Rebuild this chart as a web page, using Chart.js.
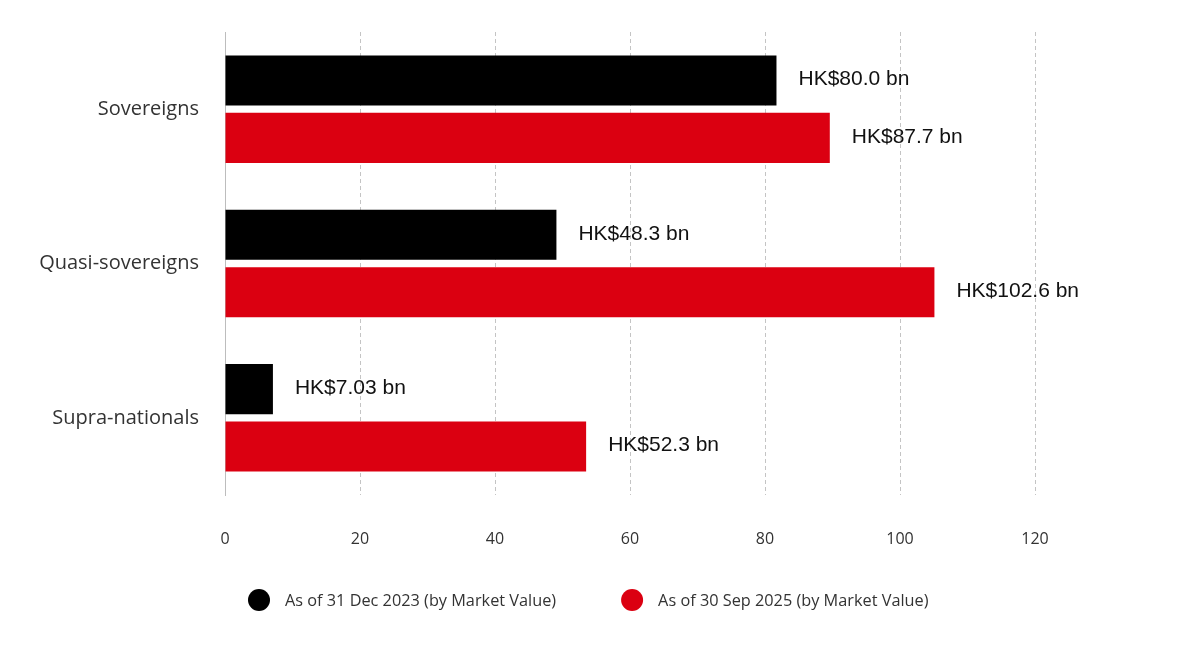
<!DOCTYPE html>
<html>
<head>
<meta charset="utf-8">
<script src="https://cdn.jsdelivr.net/npm/chart.js@4.4.1/dist/chart.umd.min.js"></script>
<style>
  html, body { margin: 0; padding: 0; background: #fff; }
</style>
</head>
<body>
<canvas id="chart" width="1200" height="649"></canvas>
<script>
const categories = ["Sovereigns", "Quasi-sovereigns", "Supra-nationals"];
const seriesNames = ["As of 31 Dec 2023 (by Market Value)", "As of 30 Sep 2025 (by Market Value)"];
const values2023 = [81.7, 49.1, 7.1];
const values2025 = [89.6, 105.1, 53.5];
const labels2023 = ["HK$80.0 bn", "HK$48.3 bn", "HK$7.03 bn"];
const labels2025 = ["HK$87.7 bn", "HK$102.6 bn", "HK$52.3 bn"];
const xTicks = [0, 20, 40, 60, 80, 100, 120];

const colors = ["#000000", "#db0011"];

// value text to the right of each bar
const barLabels = {
  id: "barLabels",
  afterDatasetsDraw(chart) {
    const ctx = chart.ctx;
    ctx.save();
    ctx.font = "21px 'Liberation Sans', Arial, sans-serif";
    ctx.fillStyle = "#111";
    ctx.textAlign = "left";
    ctx.textBaseline = "middle";
    chart.data.datasets.forEach((ds, i) => {
      const meta = chart.getDatasetMeta(i);
      meta.data.forEach((bar, j) => {
        ctx.fillText(ds.valueLabels[j], bar.x + 22, bar.y - 1);
      });
    });
    ctx.restore();
  }
};

// round-dot legend under the axis
const dotLegend = {
  id: "dotLegend",
  afterDraw(chart) {
    const ctx = chart.ctx;
    const y = 600;
    let x = 248;
    ctx.save();
    ctx.font = "16.3px 'Open Sans', sans-serif";
    ctx.textBaseline = "middle";
    ctx.textAlign = "left";
    chart.data.datasets.forEach((ds) => {
      ctx.fillStyle = ds.backgroundColor;
      ctx.beginPath();
      ctx.arc(x + 11, y, 11, 0, Math.PI * 2);
      ctx.fill();
      ctx.fillStyle = "#333";
      ctx.fillText(ds.label, x + 37, y + 1);
      x += 37 + ctx.measureText(ds.label).width + 65;
    });
    ctx.restore();
  }
};

new Chart(document.getElementById("chart"), {
  type: "bar",
  data: {
    labels: categories,
    datasets: [
      {
        label: seriesNames[0],
        data: values2023,
        valueLabels: labels2023,
        backgroundColor: colors[0],
        categoryPercentage: 0.744,
        barPercentage: 0.871,
      },
      {
        label: seriesNames[1],
        data: values2025,
        valueLabels: labels2025,
        backgroundColor: colors[1],
        categoryPercentage: 0.744,
        barPercentage: 0.871,
      },
    ],
  },
  options: {
    indexAxis: "y",
    responsive: false,
    animation: false,
    layout: { padding: { top: 32, right: 165, left: 0, bottom: 0 } },
    plugins: {
      legend: { display: false },
      tooltip: { enabled: false },
    },
    scales: {
      x: {
        min: xTicks[0],
        max: xTicks[xTicks.length - 1],
        afterFit: (scale) => { scale.height = 154; },
        ticks: {
          stepSize: xTicks[1] - xTicks[0],
          color: "#333",
          font: { family: "'Open Sans', sans-serif", size: 16 },
          padding: 35,
        },
        grid: {
          color: (c) => (c.tick && c.tick.value === 0 ? "rgba(0,0,0,0)" : "#c4c4c4"),
          drawTicks: false,
          lineWidth: 1,
        },
        border: { display: false, dash: [4, 3] },
      },
      y: {
        afterFit: (scale) => {
          scale.width = 225;
          scale.paddingTop = 0;
          scale.paddingBottom = 0;
        },
        ticks: {
          color: "#333",
          font: { family: "'Open Sans', sans-serif", size: 20 },
          padding: 26,
        },
        grid: { display: false, drawTicks: false },
        border: { display: true, color: "#bdbdbd", width: 1 },
      },
    },
  },
  plugins: [barLabels, dotLegend],
});
</script>
</body>
</html>
